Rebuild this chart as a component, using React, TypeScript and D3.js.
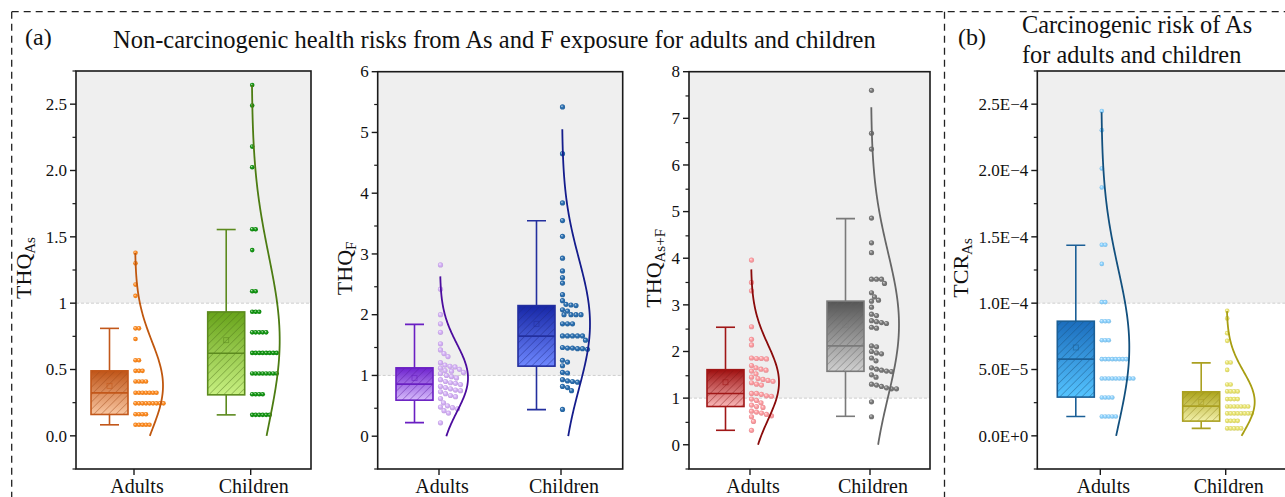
import React from "react";
import * as d3 from "d3";

// ---------------- DATA ----------------
const categories = ["Adults", "Children"];

// THQ_As
const thqAsAdults = [1.38, 1.3, 1.14, 1.055, 0.81, 0.81, 0.73, 0.57, 0.57, 0.49, 0.49, 0.49, 0.41, 0.41, 0.41, 0.41,
  0.325, 0.325, 0.325, 0.325, 0.325, 0.325, 0.325, 0.245, 0.245, 0.245, 0.245, 0.245, 0.245, 0.245, 0.245, 0.245,
  0.163, 0.163, 0.163, 0.163, 0.083, 0.083, 0.083, 0.083, 0.083];
const thqAsChildren = [2.645, 2.49, 2.18, 2.025, 1.557, 1.557, 1.4, 1.09, 1.09, 0.935, 0.935, 0.935,
  0.78, 0.78, 0.78, 0.78, 0.78, 0.625, 0.625, 0.625, 0.625, 0.625, 0.625, 0.625, 0.625,
  0.47, 0.47, 0.47, 0.47, 0.47, 0.47, 0.47, 0.47, 0.314, 0.314, 0.314, 0.314,
  0.158, 0.158, 0.158, 0.158, 0.158, 0.158];
// [q1, median, q3, whiskerLow, whiskerHigh, mean]
const thqAsBox = [[0.161, 0.324, 0.49, 0.083, 0.81, 0.377], [0.309, 0.623, 0.934, 0.158, 1.555, 0.721]];
const thqAsSd = [0.334, 0.641];

// THQ_F
const thqFAdults = [2.82, 2.42, 2.0, 1.85, 1.71, 1.52, 1.42, 1.36, 1.31, 1.21, 1.17, 1.15, 1.14, 1.12, 1.1, 1.08,
  1.07, 1.05, 1.03, 1.0, 0.98, 0.96, 0.93, 0.9, 0.88, 0.87, 0.85, 0.82, 0.8, 0.78, 0.76, 0.75, 0.73, 0.7,
  0.67, 0.65, 0.62, 0.55, 0.5, 0.48, 0.47, 0.45, 0.42, 0.38, 0.22];
const thqFChildren = [5.42, 4.65, 3.84, 3.55, 3.29, 2.93, 2.72, 2.61, 2.52, 2.33, 2.23, 2.17, 2.16, 2.15, 2.08,
  2.06, 2.0, 2.0, 2.0, 2.0, 1.85, 1.85, 1.85, 1.65, 1.65, 1.65, 1.65, 1.65, 1.58, 1.46, 1.45, 1.45, 1.44, 1.44,
  1.43, 1.25, 1.22, 1.16, 1.05, 1.04, 0.93, 0.91, 0.9, 0.89, 0.82, 0.8, 0.75, 0.44];
const thqFBox = [[0.593, 0.857, 1.125, 0.224, 1.84, 0.96], [1.153, 1.647, 2.15, 0.438, 3.547, 1.85]];
const thqFSd = [0.557, 1.067];

// THQ_As+F
const thqAsFAdults = [3.96, 3.48, 3.3, 2.53, 2.26, 2.14, 1.86, 1.85, 1.85, 1.84, 1.7, 1.65, 1.62, 1.6, 1.58, 1.52,
  1.45, 1.42, 1.4, 1.38, 1.36, 1.33, 1.3, 1.28, 1.1, 1.1, 1.08, 1.05, 1.04, 0.98, 0.95, 0.9, 0.85, 0.82, 0.8,
  0.72, 0.7, 0.68, 0.65, 0.62, 0.6, 0.5, 0.31];
const thqAsFChildren = [7.6, 6.68, 6.34, 4.86, 4.33, 4.12, 3.55, 3.55, 3.55, 3.46, 3.26, 3.17, 3.1, 3.08, 2.95,
  2.8, 2.77, 2.66, 2.64, 2.62, 2.6, 2.52, 2.5, 2.12, 2.1, 2.0, 1.97, 1.95, 1.86, 1.8, 1.65, 1.62, 1.6, 1.58,
  1.57, 1.5, 1.45, 1.3, 1.28, 1.25, 1.22, 1.2, 1.2, 0.92, 0.6];
const thqAsFBox = [[0.82, 1.1, 1.61, 0.31, 2.52, 1.34], [1.575, 2.12, 3.08, 0.61, 4.85, 2.575]];
const thqAsFSd = [0.807, 1.555];

// TCR_As
const tcrAdults = [2.449e-4, 2.304e-4, 2.015e-4, 1.872e-4, 1.44e-4, 1.44e-4, 1.296e-4, 1.008e-4, 1.008e-4,
  0.864e-4, 0.864e-4, 0.864e-4, 0.721e-4, 0.721e-4, 0.721e-4,
  0.578e-4, 0.578e-4, 0.578e-4, 0.578e-4, 0.578e-4, 0.578e-4, 0.578e-4, 0.578e-4,
  0.432e-4, 0.432e-4, 0.432e-4, 0.432e-4, 0.432e-4, 0.432e-4, 0.432e-4, 0.432e-4, 0.432e-4, 0.432e-4,
  0.289e-4, 0.289e-4, 0.289e-4, 0.289e-4, 0.146e-4, 0.146e-4, 0.146e-4, 0.146e-4, 0.146e-4];
const tcrChildren = [0.942e-4, 0.885e-4, 0.774e-4, 0.716e-4, 0.553e-4, 0.553e-4, 0.497e-4, 0.387e-4, 0.387e-4,
  0.335e-4, 0.335e-4, 0.335e-4, 0.335e-4, 0.277e-4, 0.277e-4, 0.277e-4, 0.277e-4,
  0.221e-4, 0.221e-4, 0.221e-4, 0.221e-4, 0.221e-4, 0.221e-4, 0.221e-4,
  0.169e-4, 0.169e-4, 0.169e-4, 0.169e-4, 0.169e-4, 0.169e-4, 0.169e-4, 0.169e-4,
  0.113e-4, 0.113e-4, 0.113e-4, 0.113e-4, 0.056e-4, 0.056e-4, 0.056e-4, 0.056e-4, 0.056e-4];
const tcrBox = [[0.292e-4, 0.578e-4, 0.864e-4, 0.146e-4, 1.437e-4, 0.666e-4], [0.111e-4, 0.224e-4, 0.332e-4, 0.056e-4, 0.55e-4, 0.256e-4]];
const tcrSd = [0.591e-4, 0.228e-4];

// tick labels
const thqAsTicks = [0, 0.5, 1, 1.5, 2, 2.5];
const thqAsTickLabels = ["0.0", "0.5", "1", "1.5", "2.0", "2.5"];
const thqFTicks = [0, 1, 2, 3, 4, 5, 6];
const thqAsFTicks = [0, 1, 2, 3, 4, 5, 6, 7, 8];
const tcrTicks = [0, 0.5e-4, 1e-4, 1.5e-4, 2e-4, 2.5e-4];
const tcrTickLabels = ["0.0E+0", "5.0E\u22125", "1.0E\u22124", "1.5E\u22124", "2.0E\u22124", "2.5E\u22124"];

// ---------------- STYLE / LAYOUT ----------------
const FONT = '"Liberation Serif","Times New Roman",Times,serif';

type Style = { dot: string; stroke: string; top: string; bottom: string; curve: string };

type PanelCfg = {
  id: string;
  left: number; right: number; top: number; bottom: number;
  domain: [number, number];
  cat: [number, number];
  ticks: number[]; tickLabels: string[]; minorStep: number;
  threshold: number;
  label: string; sub: string; labelX: number;
  groups: number[][]; boxes: number[][]; sds: number[];
  styles: Style[];
  r: number; gap: number;
};

const panels: PanelCfg[] = [
  {
    id: "p1", left: 76, right: 311, top: 71, bottom: 469, domain: [-0.25, 2.75], cat: [134, 250.7],
    ticks: thqAsTicks, tickLabels: thqAsTickLabels, minorStep: 0.25, threshold: 1,
    label: "THQ", sub: "As", labelX: 31,
    groups: [thqAsAdults, thqAsChildren], boxes: thqAsBox, sds: thqAsSd,
    styles: [
      { dot: "#ff8a1e", stroke: "#c2571a", top: "#bf5417", bottom: "#f9c7a2", curve: "#c0570e" },
      { dot: "#129512", stroke: "#5c8a1e", top: "#67a31a", bottom: "#c9f183", curve: "#4c7c12" },
    ],
    r: 2.3, gap: 3.3,
  },
  {
    id: "p2", left: 377.7, right: 622.7, top: 71.7, bottom: 469, domain: [-0.54, 6], cat: [439, 561],
    ticks: thqFTicks, tickLabels: thqFTicks.map(String), minorStep: 0.5, threshold: 1,
    label: "THQ", sub: "F", labelX: 352,
    groups: [thqFAdults, thqFChildren], boxes: thqFBox, sds: thqFSd,
    styles: [
      { dot: "#d6b2f8", stroke: "#6a1fc2", top: "#6e22cf", bottom: "#d6bbfb", curve: "#4c0c9e" },
      { dot: "#2b6fb0", stroke: "#232f9e", top: "#1626a6", bottom: "#6f88ff", curve: "#141c8c" },
    ],
    r: 2.6, gap: 5,
  },
  {
    id: "p3", left: 689, right: 930, top: 71.7, bottom: 469, domain: [-0.52, 8], cat: [750, 870],
    ticks: thqAsFTicks, tickLabels: thqAsFTicks.map(String), minorStep: 0.5, threshold: 1,
    label: "THQ", sub: "As+F", labelX: 661,
    groups: [thqAsFAdults, thqAsFChildren], boxes: thqAsFBox, sds: thqAsFSd,
    styles: [
      { dot: "#ff9ea3", stroke: "#a01717", top: "#9e0e0e", bottom: "#f9b8b8", curve: "#8a0a0a" },
      { dot: "#7a7a7a", stroke: "#7a7a7a", top: "#555555", bottom: "#d0d0d0", curve: "#666666" },
    ],
    r: 2.6, gap: 5,
  },
  {
    id: "p4", left: 1037.3, right: 1289, top: 71, bottom: 469, domain: [-0.25e-4, 2.75e-4], cat: [1100.3, 1225.7],
    ticks: tcrTicks, tickLabels: tcrTickLabels, minorStep: 0.25e-4, threshold: 1e-4,
    label: "TCR", sub: "As", labelX: 968,
    groups: [tcrAdults, tcrChildren], boxes: tcrBox, sds: tcrSd,
    styles: [
      { dot: "#8dd3ff", stroke: "#1b5f96", top: "#1b6dbd", bottom: "#55c4ff", curve: "#12507e" },
      { dot: "#ece772", stroke: "#aaa021", top: "#aca41a", bottom: "#f3f1ab", curve: "#a89e12" },
    ],
    r: 2.3, gap: 3.3,
  },
];

function swarm(values: number[], y: (v: number) => number, x0: number, gap: number) {
  const pts = values.map((v) => ({ v, y: y(v), x: 0 })).sort((a, b) => a.y - b.y);
  const placed: { x: number; y: number }[] = [];
  for (const p of pts) {
    let dx = 0;
    while (placed.some((q) => (q.x - dx) ** 2 + (q.y - p.y) ** 2 < gap * gap)) dx += 0.5;
    placed.push({ x: dx, y: p.y });
  }
  return placed.map((p) => ({ x: x0 + p.x, y: p.y }));
}

function Panel({ cfg }: { cfg: PanelCfg }) {
  const y = d3.scaleLinear().domain(cfg.domain).range([cfg.bottom, cfg.top]);
  const x = d3.scalePoint<string>().domain(categories).range(cfg.cat);
  const minors = d3.range(cfg.domain[0], cfg.domain[1] + cfg.minorStep / 2, cfg.minorStep)
    .filter((v) => !cfg.ticks.some((t) => Math.abs(t - v) < cfg.minorStep / 10));
  const plotW = cfg.right - cfg.left;
  const clipId = `clip-${cfg.id}`;
  const mid = (cfg.top + cfg.bottom) / 2 - 2;
  return (
    <g>
      <defs>
        <clipPath id={clipId}>
          <rect x={cfg.left} y={cfg.top} width={plotW} height={cfg.bottom - cfg.top} />
        </clipPath>
        {cfg.styles.map((s, i) => (
          <React.Fragment key={i}>
            <linearGradient id={`${cfg.id}-box${i}`} x1="0" y1="0" x2="0" y2="1">
              <stop offset="0" stopColor={s.top} />
              <stop offset="1" stopColor={s.bottom} />
            </linearGradient>
            <radialGradient id={`${cfg.id}-dot${i}`} cx="0.5" cy="0.5" r="0.55" fx="0.35" fy="0.32">
              <stop offset="0" stopColor={d3.interpolateRgb(s.dot, "#ffffff")(0.75)} />
              <stop offset="0.45" stopColor={s.dot} />
              <stop offset="1" stopColor={d3.color(s.dot)!.darker(0.35).formatHex()} />
            </radialGradient>
            <pattern id={`${cfg.id}-hatch${i}`} patternUnits="userSpaceOnUse" width="5.2" height="5.2"
              patternTransform="rotate(45)">
              <line x1="0" y1="0" x2="0" y2="5.2" stroke={d3.color(s.stroke)!.darker(0.6).formatHex()}
                strokeWidth="0.9" strokeOpacity="0.8" />
            </pattern>
          </React.Fragment>
        ))}
      </defs>
      {/* shading above threshold */}
      <g clipPath={`url(#${clipId})`}>
        <rect x={cfg.left} y={cfg.top} width={plotW} height={y(cfg.threshold) - cfg.top} fill="#efefef" />
        <line x1={cfg.left} x2={cfg.right} y1={y(cfg.threshold)} y2={y(cfg.threshold)}
          stroke="#cfcfcf" strokeWidth="1" strokeDasharray="3 2" />
        {categories.map((c, i) => {
          const s = cfg.styles[i];
          const b = cfg.boxes[i];
          const cx = x(c)! - 24.5;
          const bw = 37;
          const [q1, med, q3, lo, hi, mean] = b;
          const pts = swarm(cfg.groups[i], y, x(c)! + 1.5, cfg.gap);
          const mu = mean;
          const sd = cfg.sds[i];
          const curveVals = d3.range(0, 121).map((k) => (k / 120) * (mu + 3 * sd));
          const line = d3.line<number>()
            .x((v) => x(c)! + 1 + 28 * Math.exp(-((v - mu) ** 2) / (2 * sd * sd)))
            .y((v) => y(v))
            .curve(d3.curveBasis);
          return (
            <g key={c}>
              <line x1={cx} x2={cx} y1={y(q3)} y2={y(hi)} stroke={s.stroke} strokeWidth="1.6" />
              <line x1={cx} x2={cx} y1={y(q1)} y2={y(lo)} stroke={s.stroke} strokeWidth="1.6" />
              <line x1={cx - 9.5} x2={cx + 9.5} y1={y(hi)} y2={y(hi)} stroke={s.stroke} strokeWidth="1.6" />
              <line x1={cx - 9.5} x2={cx + 9.5} y1={y(lo)} y2={y(lo)} stroke={s.stroke} strokeWidth="1.6" />
              <rect x={cx - bw / 2} y={y(q3)} width={bw} height={y(q1) - y(q3)} fill={`url(#${cfg.id}-box${i})`} />
              <rect x={cx - bw / 2} y={y(q3)} width={bw} height={y(q1) - y(q3)} fill={`url(#${cfg.id}-hatch${i})`} />
              <rect x={cx - bw / 2} y={y(q3)} width={bw} height={y(q1) - y(q3)} fill="none"
                stroke={s.stroke} strokeWidth="1.6" />
              <line x1={cx - bw / 2} x2={cx + bw / 2} y1={y(med)} y2={y(med)} stroke={s.stroke} strokeWidth="1.6" />
              <rect x={cx - 2.5} y={y(mean) - 2.5} width={5} height={5} fill="none" stroke={s.stroke}
                strokeWidth="0.8" strokeOpacity="0.7" />
              {pts.map((p, k) => (
                <circle key={k} cx={p.x} cy={p.y} r={cfg.r} fill={`url(#${cfg.id}-dot${i})`} />
              ))}
              <path d={line(curveVals) || ""} fill="none" stroke={s.curve} strokeWidth="1.8" />
            </g>
          );
        })}
      </g>
      {/* frame */}
      <rect x={cfg.left} y={cfg.top} width={plotW} height={cfg.bottom - cfg.top} fill="none"
        stroke="#1a1a1a" strokeWidth="1.6" />
      {/* y ticks */}
      {cfg.ticks.map((t, k) => (
        <g key={k}>
          <line x1={cfg.left - 6} x2={cfg.left} y1={y(t)} y2={y(t)} stroke="#1a1a1a" strokeWidth="1.4" />
          <text x={cfg.left - 9} y={y(t)} dy="0.34em" textAnchor="end" fontSize="17" fontFamily={FONT} fill="#111">
            {cfg.tickLabels[k]}
          </text>
        </g>
      ))}
      {minors.map((t, k) => (
        <line key={k} x1={cfg.left - 3.5} x2={cfg.left} y1={y(t)} y2={y(t)} stroke="#1a1a1a" strokeWidth="1.2" />
      ))}
      {/* x ticks */}
      {categories.map((c) => (
        <g key={c}>
          <line x1={x(c)!} x2={x(c)!} y1={cfg.bottom} y2={cfg.bottom + 6} stroke="#1a1a1a" strokeWidth="1.4" />
          <text x={x(c)! + 3} y={493} textAnchor="middle" fontSize="20" fontFamily={FONT} fill="#111">{c}</text>
        </g>
      ))}
      {/* y label */}
      <text transform={`translate(${cfg.labelX},${mid}) rotate(-90)`} textAnchor="middle" fontSize="22"
        fontFamily={FONT} fill="#111">
        {cfg.label}
        <tspan fontSize="15" dy="4">{cfg.sub}</tspan>
      </text>
    </g>
  );
}

export default function App() {
  return (
    <svg width={1285} height={497} viewBox="0 0 1285 497"
      style={{ position: "absolute", left: 0, top: 0, background: "#ffffff", display: "block" }}>
      <rect x={0} y={0} width={1285} height={497} fill="#ffffff" />
      {/* dashed frames */}
      <g stroke="#222" strokeWidth="1.3" strokeDasharray="7 5" fill="none">
        <line x1={11.7} x2={1290} y1={11.7} y2={11.7} />
        <line x1={11.7} x2={11.7} y1={11.7} y2={500} />
        <line x1={944.5} x2={944.5} y1={11.7} y2={500} />
      </g>
      <text x={25} y={45} fontSize="24" fontFamily={FONT} fill="#111">(a)</text>
      <text x={113} y={48} fontSize="24.5" fontFamily={FONT} fill="#111">
        Non-carcinogenic health risks from As and F exposure for adults and children
      </text>
      <text x={958} y={45} fontSize="24" fontFamily={FONT} fill="#111">(b)</text>
      <text x={1022} y={33} fontSize="24.3" fontFamily={FONT} fill="#111">Carcinogenic risk of As</text>
      <text x={1022} y={63} fontSize="24.3" fontFamily={FONT} fill="#111">for adults and children</text>
      {panels.map((p) => (
        <Panel key={p.id} cfg={p} />
      ))}
    </svg>
  );
}
